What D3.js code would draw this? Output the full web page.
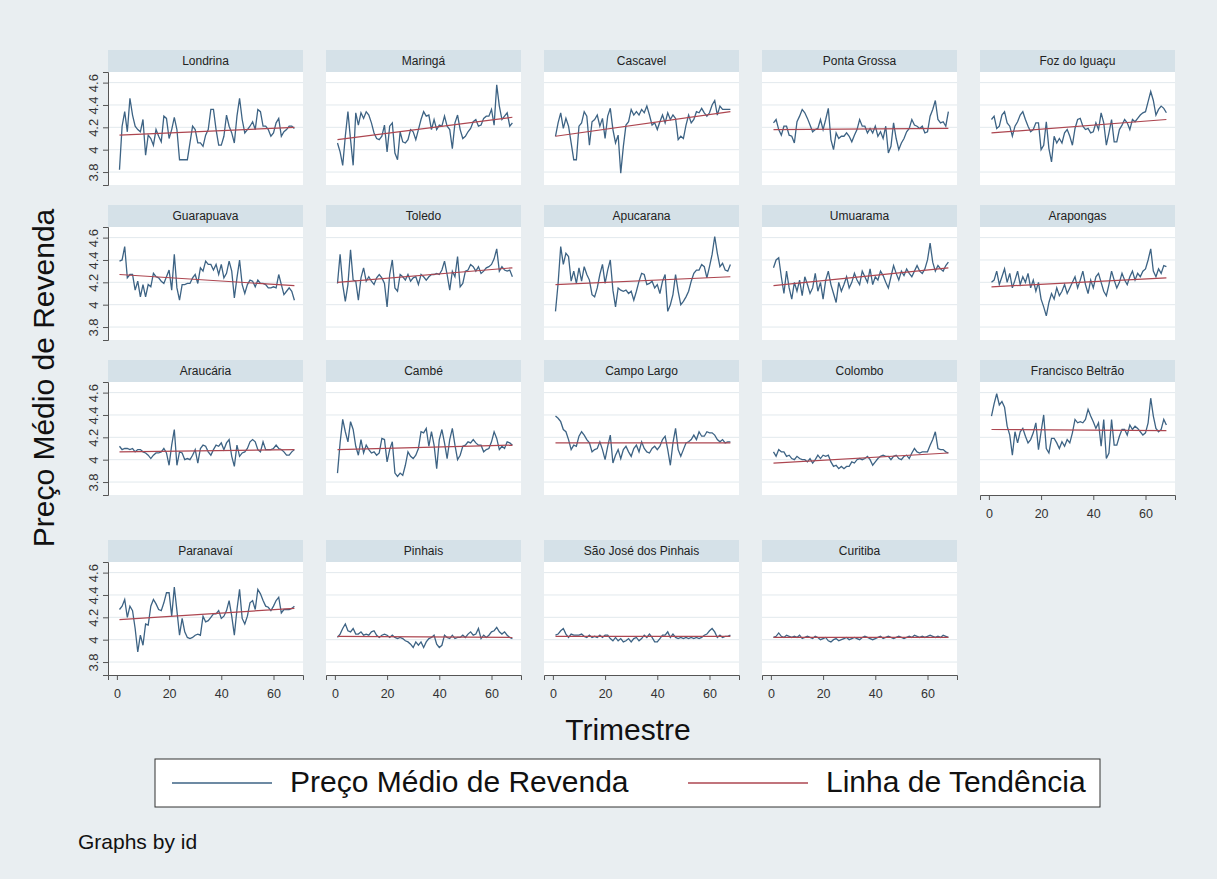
<!DOCTYPE html>
<html>
<head>
<meta charset="utf-8">
<script src="https://cdn.jsdelivr.net/npm/d3@7"></script>
<style>
  html, body { margin: 0; padding: 0; background: #e9eef1; }
  svg { display: block; font-family: "Liberation Sans", Arial, sans-serif; }
</style>
</head>
<body>
<svg id="chart"></svg>
<script>
// cidades na ordem dos paineis
const cities = ['Londrina', 'Maringá', 'Cascavel', 'Ponta Grossa', 'Foz do Iguaçu',
    'Guarapuava', 'Toledo', 'Apucarana', 'Umuarama', 'Arapongas',
    'Araucária', 'Cambé', 'Campo Largo', 'Colombo', 'Francisco Beltrão',
    'Paranavaí', 'Pinhais', 'São José dos Pinhais', 'Curitiba'];

// preco medio de revenda por trimestre (1..68)
const londrina = [3.82,4.21,4.34,4.16,4.46,4.31,4.21,4.18,4.16,4.27,3.95,4.13,4.10,4.04,4.18,4.12,4.07,4.30,4.28,4.10,4.18,4.29,4.18,3.91,3.91,3.91,3.91,4.06,4.21,4.18,4.06,4.06,4.03,4.13,4.18,4.36,4.36,4.18,4.04,4.04,4.12,4.31,4.21,4.15,4.06,4.30,4.46,4.27,4.15,4.18,4.21,4.25,4.18,4.36,4.34,4.21,4.21,4.18,4.12,4.15,4.24,4.28,4.12,4.16,4.18,4.21,4.21,4.19];
const maringa = [4.06,3.98,3.86,4.12,4.34,4.09,3.86,4.33,4.22,4.33,4.28,4.34,4.31,4.24,4.15,4.10,4.09,4.12,4.22,3.98,4.21,4.24,3.97,3.91,4.16,4.07,4.06,4.09,4.18,4.16,4.09,4.18,4.27,4.34,4.30,4.31,4.18,4.27,4.18,4.22,4.21,4.30,4.21,4.18,4.01,4.24,4.31,4.18,4.10,4.12,4.16,4.19,4.25,4.27,4.21,4.22,4.28,4.30,4.30,4.36,4.22,4.58,4.39,4.27,4.30,4.33,4.21,4.24];
const cascavel = [4.12,4.24,4.33,4.19,4.28,4.21,4.06,3.91,3.91,4.21,4.24,4.34,4.30,4.04,4.25,4.27,4.31,4.21,4.28,4.10,4.30,4.37,4.18,4.06,4.13,3.79,4.03,4.22,4.25,4.36,4.31,4.34,4.31,4.36,4.33,4.39,4.31,4.22,4.24,4.18,4.25,4.31,4.24,4.33,4.27,4.31,4.28,4.09,4.12,4.10,4.22,4.31,4.24,4.27,4.34,4.33,4.37,4.33,4.30,4.33,4.40,4.44,4.31,4.39,4.36,4.36,4.36,4.36];
const pontaGrossa = [4.24,4.27,4.18,4.13,4.21,4.21,4.13,4.12,4.06,4.25,4.30,4.36,4.33,4.28,4.22,4.16,4.18,4.19,4.27,4.18,4.27,4.37,4.09,4.00,4.15,4.10,4.12,4.12,4.15,4.12,4.07,4.13,4.18,4.27,4.21,4.21,4.15,4.19,4.15,4.21,4.12,4.16,4.10,4.21,3.97,4.03,4.24,4.10,4.00,4.06,4.10,4.16,4.19,4.27,4.22,4.21,4.19,4.21,4.15,4.16,4.30,4.36,4.44,4.27,4.24,4.25,4.21,4.34];
const fozDoIguacu = [4.27,4.30,4.19,4.21,4.31,4.34,4.24,4.21,4.12,4.21,4.25,4.31,4.34,4.27,4.21,4.16,4.18,4.24,4.24,4.00,4.04,4.25,4.01,3.89,4.12,4.06,4.10,4.06,4.15,4.18,4.12,4.04,4.19,4.27,4.28,4.21,4.18,4.19,4.15,4.16,4.24,4.18,4.33,4.24,4.04,4.15,4.27,4.07,4.07,4.18,4.22,4.27,4.24,4.18,4.27,4.25,4.28,4.31,4.33,4.34,4.43,4.52,4.44,4.31,4.36,4.39,4.37,4.33];
const guarapuava = [4.39,4.40,4.52,4.24,4.27,4.27,4.13,4.21,4.07,4.18,4.07,4.18,4.16,4.28,4.25,4.24,4.21,4.19,4.25,4.31,4.13,4.45,4.15,4.04,4.18,4.18,4.19,4.19,4.24,4.27,4.19,4.33,4.30,4.39,4.36,4.36,4.31,4.36,4.27,4.36,4.24,4.28,4.39,4.30,4.06,4.24,4.40,4.18,4.10,4.18,4.22,4.21,4.16,4.22,4.19,4.19,4.18,4.15,4.15,4.16,4.15,4.27,4.18,4.09,4.12,4.15,4.12,4.04];
const toledo = [4.19,4.45,4.18,4.03,4.18,4.49,4.22,4.21,4.04,4.24,4.33,4.21,4.25,4.21,4.18,4.24,4.27,4.24,4.19,3.98,4.27,4.40,4.15,4.12,4.27,4.25,4.22,4.27,4.21,4.24,4.25,4.18,4.27,4.25,4.22,4.25,4.27,4.27,4.28,4.27,4.31,4.39,4.27,4.13,4.30,4.25,4.43,4.16,4.19,4.30,4.31,4.36,4.34,4.30,4.34,4.28,4.30,4.33,4.34,4.36,4.41,4.50,4.30,4.34,4.31,4.30,4.31,4.25];
const apucarana = [3.94,4.19,4.52,4.36,4.46,4.43,4.21,4.30,4.19,4.33,4.21,4.34,4.27,4.22,4.09,4.07,4.15,4.27,4.36,4.19,4.31,4.40,4.13,3.98,4.15,4.13,4.12,4.13,4.10,4.12,4.04,4.12,4.21,4.28,4.27,4.18,4.19,4.21,4.15,4.18,4.10,4.21,4.27,3.94,4.00,4.09,4.27,4.12,4.00,4.03,4.07,4.12,4.21,4.28,4.31,4.31,4.36,4.34,4.24,4.34,4.45,4.61,4.46,4.34,4.37,4.31,4.30,4.36];
const umuarama = [4.33,4.40,4.42,4.25,4.10,4.30,4.15,4.05,4.20,4.12,4.22,4.08,4.25,4.18,4.10,4.15,4.28,4.12,4.20,4.05,4.22,4.30,4.18,4.10,4.02,4.20,4.12,4.18,4.25,4.15,4.20,4.28,4.22,4.18,4.30,4.25,4.20,4.32,4.18,4.25,4.22,4.30,4.26,4.20,4.15,4.25,4.35,4.28,4.22,4.30,4.26,4.32,4.28,4.25,4.30,4.35,4.30,4.28,4.32,4.40,4.55,4.38,4.30,4.35,4.32,4.30,4.35,4.38];
const arapongas = [4.20,4.22,4.30,4.18,4.25,4.32,4.20,4.28,4.15,4.22,4.30,4.18,4.25,4.20,4.28,4.15,4.22,4.12,4.20,4.05,3.98,3.90,4.02,4.10,4.05,4.15,4.08,4.12,4.18,4.10,4.15,4.20,4.25,4.15,4.22,4.30,4.18,4.10,4.22,4.15,4.25,4.28,4.20,4.12,4.08,4.18,4.30,4.22,4.15,4.20,4.28,4.22,4.18,4.25,4.30,4.22,4.28,4.25,4.30,4.32,4.40,4.50,4.30,4.25,4.32,4.28,4.35,4.34];
const araucaria = [4.12,4.09,4.10,4.10,4.09,4.10,4.07,4.09,4.09,4.07,4.06,4.04,4.01,4.04,4.06,4.06,4.07,4.10,4.06,3.95,4.13,4.27,3.95,4.07,4.06,4.00,4.01,4.00,4.04,4.09,3.97,4.10,4.13,4.12,4.07,4.04,4.09,4.13,4.12,4.15,4.09,4.15,4.18,4.03,3.94,4.13,4.03,4.06,4.07,4.10,4.16,4.18,4.16,4.09,4.07,4.16,4.09,4.09,4.09,4.10,4.13,4.10,4.09,4.07,4.04,4.04,4.07,4.09];
const cambe = [3.88,4.15,4.36,4.25,4.16,4.34,4.27,4.12,4.04,4.18,4.06,4.13,4.09,4.06,4.07,4.04,4.06,4.19,4.18,3.98,4.09,4.16,3.88,3.85,3.88,3.86,3.95,4.07,4.03,4.01,4.04,4.10,4.25,4.24,4.28,4.12,4.25,4.13,3.92,4.18,4.27,4.15,4.01,4.18,4.28,4.13,4.00,4.04,4.12,4.13,4.16,4.15,4.18,4.15,4.13,4.13,4.07,4.09,4.10,4.16,4.25,4.19,4.09,4.12,4.10,4.16,4.15,4.13];
const campoLargo = [4.39,4.37,4.34,4.27,4.25,4.18,4.09,4.13,4.12,4.21,4.25,4.22,4.18,4.15,4.07,4.09,4.10,4.16,4.09,4.00,4.12,4.22,3.97,4.04,4.09,4.01,4.09,4.12,4.07,4.03,4.10,4.13,4.07,4.16,4.10,4.07,4.06,4.10,4.12,4.09,4.12,4.18,4.21,4.09,3.95,4.15,4.28,4.09,4.03,4.09,4.15,4.16,4.18,4.22,4.18,4.25,4.21,4.21,4.25,4.24,4.24,4.22,4.18,4.16,4.18,4.15,4.16,4.16];
const colombo = [4.07,4.03,4.09,4.07,4.07,4.03,4.04,4.01,4.00,4.03,4.01,4.00,4.00,3.98,4.01,3.97,4.00,4.04,4.01,4.04,4.03,4.04,3.98,3.94,3.95,3.92,3.94,3.92,3.94,3.94,3.98,3.97,4.00,4.01,4.00,4.01,4.03,4.00,3.95,3.98,4.01,4.03,4.04,4.03,4.03,4.00,4.03,4.04,4.01,4.00,4.03,4.04,4.01,4.06,4.10,4.07,4.06,4.07,4.07,4.07,4.13,4.18,4.25,4.10,4.09,4.09,4.07,4.06];
const franciscoBeltrao = [4.39,4.50,4.59,4.49,4.52,4.47,4.30,4.22,4.04,4.25,4.15,4.25,4.28,4.21,4.15,4.18,4.24,4.33,4.09,4.25,4.40,4.10,4.06,4.19,4.19,4.15,4.10,4.16,4.12,4.18,4.15,4.24,4.36,4.33,4.34,4.33,4.36,4.45,4.39,4.34,4.28,4.33,4.12,4.36,4.01,4.06,4.36,4.13,4.13,4.21,4.27,4.27,4.22,4.31,4.27,4.30,4.28,4.25,4.22,4.24,4.33,4.55,4.39,4.28,4.25,4.27,4.36,4.31];
const paranavai = [4.27,4.30,4.36,4.20,4.30,4.26,4.10,3.89,4.04,3.95,4.14,4.13,4.30,4.36,4.32,4.27,4.26,4.33,4.42,4.42,4.21,4.47,4.26,4.04,4.19,4.07,4.02,4.01,4.02,4.04,4.05,4.04,4.21,4.16,4.17,4.20,4.23,4.23,4.26,4.19,4.21,4.26,4.35,4.21,4.04,4.27,4.45,4.19,4.14,4.21,4.33,4.35,4.27,4.45,4.41,4.35,4.30,4.29,4.26,4.30,4.35,4.38,4.24,4.27,4.27,4.27,4.28,4.30];
const pinhais = [4.02,4.05,4.10,4.14,4.08,4.07,4.10,4.05,4.05,4.07,4.04,4.05,4.04,4.07,4.08,4.04,4.02,4.04,4.05,4.04,4.02,4.04,4.02,4.01,4.02,4.01,3.99,3.98,3.96,3.93,3.98,3.95,3.98,3.93,3.98,4.01,4.02,4.04,3.96,3.93,3.95,4.04,4.02,4.01,4.04,4.01,4.02,4.02,4.04,4.02,4.05,4.07,4.04,4.05,4.10,4.01,4.04,4.02,4.04,4.07,4.08,4.11,4.07,4.05,4.07,4.04,4.02,4.01];
const saoJose = [4.04,4.05,4.08,4.10,4.05,4.02,4.05,4.04,4.04,4.04,4.05,4.03,4.02,4.04,4.02,4.03,4.02,4.04,4.02,4.04,4.04,4.01,3.99,4.02,3.99,4.01,3.98,3.99,4.01,3.98,4.01,4.02,3.99,4.01,4.04,4.02,4.05,4.02,3.98,3.98,4.01,4.04,4.04,4.07,4.02,4.05,4.02,4.01,4.02,4.01,4.02,4.01,4.02,4.01,4.02,4.01,4.02,4.04,4.05,4.08,4.10,4.07,4.02,4.04,4.02,4.03,4.03,4.04];
const curitiba = [4.02,4.03,4.06,4.03,4.02,4.04,4.03,4.02,4.03,4.02,4.04,4.01,4.02,4.03,4.02,4.01,4.03,4.02,4.00,4.01,4.02,3.99,3.98,4.00,4.01,3.99,4.00,4.01,4.02,4.00,4.01,4.02,4.01,4.00,4.02,4.03,4.02,4.01,4.00,4.01,4.02,4.03,4.01,4.02,4.03,4.02,4.01,4.02,4.03,4.02,4.01,4.02,4.03,4.02,4.04,4.03,4.02,4.03,4.02,4.03,4.04,4.03,4.02,4.03,4.02,4.04,4.03,4.02];

// linha de tendencia: valor no 1o e no ultimo trimestre
const trendStart = [4.13, 4.09, 4.12, 4.18, 4.15, 4.27, 4.20, 4.18, 4.17, 4.16, 4.07, 4.09, 4.15, 3.97, 4.27, 4.18, 4.03, 4.03, 4.02];
const trendEnd   = [4.20, 4.29, 4.34, 4.19, 4.27, 4.17, 4.33, 4.25, 4.33, 4.24, 4.09, 4.13, 4.15, 4.06, 4.26, 4.28, 4.02, 4.03, 4.02];

const yTicks = [3.8, 4, 4.2, 4.4, 4.6];
const xTicks = [0, 20, 40, 60];

const series = [londrina, maringa, cascavel, pontaGrossa, fozDoIguacu,
    guarapuava, toledo, apucarana, umuarama, arapongas,
    araucaria, cambe, campoLargo, colombo, franciscoBeltrao,
    paranavai, pinhais, saoJose, curitiba];

const W = 1217, H = 879;
const colLeft = [108, 326, 544, 762, 980];
const rowTop = [72, 227, 382, 562];
const pw = 195, ph = 113, stripH = 22;
const blue = '#3d6384', red = '#ad4650';
const font = '"Liberation Sans", Arial, sans-serif';

const svg = d3.select('#chart').attr('width', W).attr('height', H);
svg.append('rect').attr('width', W).attr('height', H).attr('fill', '#e9eef1');

const nPanels = cities.length;

cities.forEach((name, i) => {
    const row = Math.floor(i / 5), col = i % 5;
    const left = colLeft[col], top = rowTop[row];
    const x = d3.scaleLinear().domain([-3.4, 71.3]).range([left, left + pw]);
    const y = d3.scaleLinear().domain([3.684, 4.695]).range([top + ph, top]);
    const g = svg.append('g');

    // faixa do titulo
    g.append('rect').attr('x', left).attr('y', top - stripH).attr('width', pw).attr('height', stripH)
        .attr('fill', '#d5e1e8');
    g.append('text').attr('x', left + pw / 2).attr('y', top - stripH / 2 + 1)
        .attr('text-anchor', 'middle').attr('dominant-baseline', 'middle')
        .attr('font-size', '12px').attr('fill', '#222').text(name);

    // area do grafico
    g.append('rect').attr('x', left).attr('y', top).attr('width', pw).attr('height', ph).attr('fill', '#fff');
    g.selectAll('line.grid').data(yTicks).join('line').attr('class', 'grid')
        .attr('x1', left).attr('x2', left + pw)
        .attr('y1', d => y(d)).attr('y2', d => y(d))
        .attr('stroke', '#e2e9ed').attr('stroke-width', 1);

    const line = d3.line().x((d, k) => x(k + 1)).y(d => y(d));
    g.append('path').datum(series[i]).attr('d', line)
        .attr('fill', 'none').attr('stroke', blue).attr('stroke-width', 1.3);
    g.append('path').datum([trendStart[i], trendEnd[i]])
        .attr('d', d3.line().x((d, k) => x(k === 0 ? 1 : series[i].length)).y(d => y(d)))
        .attr('fill', 'none').attr('stroke', red).attr('stroke-width', 1.2);

    if (col === 0) {
        const ax = g.append('g').attr('transform', `translate(${left},0)`)
            .call(d3.axisLeft(y).tickValues(yTicks).tickSize(5).tickFormat(d3.format('~g')));
        ax.select('.domain').attr('stroke', '#555');
        ax.selectAll('.tick line').attr('stroke', '#555');
        ax.selectAll('.tick text')
            .attr('font-family', font).attr('font-size', '13px').attr('fill', '#333')
            .attr('transform', 'rotate(-90, -15, 0)')
            .attr('x', -15).attr('y', 0).attr('dy', '0.35em').attr('text-anchor', 'middle');
    }
    // eixo x quando nao ha painel abaixo
    if (i + 5 >= nPanels) {
        const ax = g.append('g').attr('transform', `translate(0,${top + ph})`)
            .call(d3.axisBottom(x).tickValues(xTicks).tickSize(5));
        ax.select('.domain').attr('stroke', '#555');
        ax.selectAll('.tick line').attr('stroke', '#555');
        ax.selectAll('.tick text')
            .attr('font-family', font).attr('font-size', '12.5px').attr('fill', '#333')
            .attr('y', 14);
    }
});

// titulos dos eixos
svg.append('text').attr('transform', 'translate(46,378) rotate(-90)')
    .attr('text-anchor', 'middle').attr('dominant-baseline', 'middle')
    .attr('font-size', '30px').attr('fill', '#111').text('Preço Médio de Revenda');
svg.append('text').attr('x', 628).attr('y', 732)
    .attr('text-anchor', 'middle').attr('dominant-baseline', 'middle')
    .attr('font-size', '30px').attr('fill', '#111').text('Trimestre');

// legenda
const legend = svg.append('g');
legend.append('rect').attr('x', 155).attr('y', 759).attr('width', 945).attr('height', 48)
    .attr('fill', '#fff').attr('stroke', '#333').attr('stroke-width', 1);
const legItems = [
    { label: 'Preço Médio de Revenda', color: blue, x1: 172, x2: 272, tx: 290 },
    { label: 'Linha de Tendência', color: red, x1: 688, x2: 808, tx: 826 }
];
legItems.forEach(d => {
    legend.append('line').attr('x1', d.x1).attr('x2', d.x2).attr('y1', 783).attr('y2', 783)
        .attr('stroke', d.color).attr('stroke-width', 1.5);
    legend.append('text').attr('x', d.tx).attr('y', 784).attr('dominant-baseline', 'middle')
        .attr('font-size', '30px').attr('fill', '#111').text(d.label);
});

svg.append('text').attr('x', 78).attr('y', 843).attr('dominant-baseline', 'middle')
    .attr('font-size', '21px').attr('fill', '#111').text('Graphs by id');
</script>
</body>
</html>
